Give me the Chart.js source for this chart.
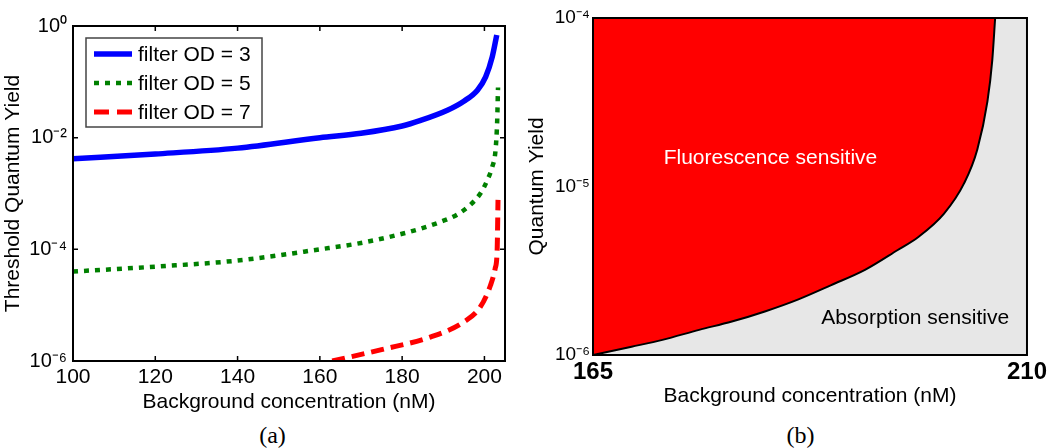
<!DOCTYPE html>
<html>
<head>
<meta charset="utf-8">
<script src="https://cdn.jsdelivr.net/npm/chart.js@4/dist/chart.umd.min.js"></script>
<style>
  html, body { margin: 0; padding: 0; background: #fff; }
  #page { position: relative; width: 1050px; height: 448px; overflow: hidden; }
  .panel { position: absolute; top: 0; width: 525px; height: 420px; }
  .caption { position: absolute; top: 421px; width: 525px; line-height: 28px; text-align: center;
             font-family: 'Liberation Serif', 'DejaVu Serif', serif; font-size: 24px; color: #000; }
</style>
</head>
<body>
<div id="page">
  <div class="panel" style="left:0"><canvas id="chartA" width="525" height="420"></canvas></div>
  <div class="panel" style="left:525px"><canvas id="chartB" width="525" height="420"></canvas></div>
  <div class="caption" style="left:10px">(a)</div>
  <div class="caption" style="left:538px">(b)</div>
</div>
<script>
// ---- panel (a): threshold quantum yield per filter OD ----
const odLabels = ['filter OD = 3', 'filter OD = 5', 'filter OD = 7'];
const od3X = [100, 120, 140, 160, 170, 180, 184.5, 191, 195, 198.3, 200.3, 201.9, 203.0];
const od3Y = [4.2e-3, 5.1e-3, 6.5e-3, 1.0e-2, 1.2e-2, 1.62e-2, 2.04e-2, 3.1e-2, 4.5e-2, 7.1e-2, 0.123, 0.28, 0.69];
const od5X = [100, 120, 140, 160, 170, 180, 184.5, 189.3, 193.4, 196.6, 199.1, 200.7, 201.9, 202.7, 203.1, 203.3];
const od5Y = [4.0e-5, 4.9e-5, 6.3e-5, 1.0e-4, 1.3e-4, 1.9e-4, 2.35e-4, 3.1e-4, 4.2e-4, 6.3e-4, 1.02e-3, 1.74e-3, 3.0e-3, 6.0e-3, 2.0e-2, 7.9e-2];
const od7X = [163, 175, 187, 195, 199, 201.5, 202.6, 203.1, 203.3];
const od7Y = [1.0e-6, 1.6e-6, 2.7e-6, 5.0e-6, 9.3e-6, 2.3e-5, 4.5e-5, 1.0e-4, 7.7e-4];
const xTicksA = [100, 120, 140, 160, 180, 200];
const yTicksA = [1e-6, 1e-4, 1e-2, 1];
const yTickLabelsA = ['10\u207B\u2076', '10\u207B\u2074', '10\u207B\u00B2', '10\u2070'];

// ---- panel (b): sensitivity regions ----
const boundaryX = [165, 169, 172.2, 176, 179.4, 182.9, 186.3, 189.7, 193.2, 196.6, 198.7, 201.4, 203.5, 204.85, 205.9, 206.4, 206.7];
const boundaryY = [1.0e-6, 1.12e-6, 1.23e-6, 1.41e-6, 1.58e-6, 1.82e-6, 2.14e-6, 2.6e-6, 3.2e-6, 4.2e-6, 5.0e-6, 6.9e-6, 1.05e-5, 1.66e-5, 3.2e-5, 5.6e-5, 1.0e-4];
const xTicksB = [165, 210];
const yTicksB = [1e-6, 1e-5, 1e-4];
const yTickLabelsB = ['10\u207B\u2076', '10\u207B\u2075', '10\u207B\u2074'];
const regionLabels = ['Fluorescence sensitive', 'Absorption sensitive'];
const regionX = [183.4, 198.4];
const regionY = [1.48e-5, 1.66e-6];

const FONT = "'Liberation Sans', Arial, sans-serif";

function toPoints(xs, ys) {
    return xs.map((x, i) => ({ x: x, y: ys[i] }));
}

// box with inward ticks on all four sides (matlab style)
const frameA = {
    id: 'frameA',
    afterDatasetsDraw(chart) {
        const { ctx, chartArea: a, scales } = chart;
        ctx.save();
        ctx.strokeStyle = '#000';
        ctx.lineWidth = 2;
        ctx.strokeRect(a.left, a.top, a.right - a.left, a.bottom - a.top);
        ctx.lineWidth = 1.5;
        ctx.beginPath();
        scales.x.ticks.forEach(t => {
            const px = scales.x.getPixelForValue(t.value);
            ctx.moveTo(px, a.bottom); ctx.lineTo(px, a.bottom - 5);
            ctx.moveTo(px, a.top); ctx.lineTo(px, a.top + 5);
        });
        scales.y.ticks.forEach(t => {
            const py = scales.y.getPixelForValue(t.value);
            ctx.moveTo(a.left, py); ctx.lineTo(a.left + 5, py);
            ctx.moveTo(a.right, py); ctx.lineTo(a.right - 5, py);
        });
        ctx.stroke();
        ctx.restore();
    }
};

// legend inside the plot, top left
const insideLegend = {
    id: 'insideLegend',
    afterDraw(chart) {
        const { ctx, chartArea: a } = chart;
        const bx = a.left + 13, by = a.top + 12, bw = 176, bh = 89;
        ctx.save();
        ctx.fillStyle = '#fff';
        ctx.fillRect(bx, by, bw, bh);
        ctx.strokeStyle = '#444';
        ctx.lineWidth = 1.5;
        ctx.strokeRect(bx, by, bw, bh);
        chart.data.datasets.forEach((ds, i) => {
            const y = by + 16 + i * 29;
            ctx.beginPath();
            ctx.strokeStyle = ds.borderColor;
            ctx.lineWidth = ds.borderWidth;
            ctx.setLineDash(ds.legendDash || []);
            ctx.moveTo(bx + 8, y);
            ctx.lineTo(bx + 46, y);
            ctx.stroke();
            ctx.setLineDash([]);
            ctx.fillStyle = '#000';
            ctx.font = '21px ' + FONT;
            ctx.textBaseline = 'middle';
            ctx.fillText(ds.label, bx + 52, y + 1);
        });
        ctx.restore();
    }
};

function renderPanelA() {
    const canvas = document.getElementById('chartA');
    return new Chart(canvas.getContext('2d'), {
        type: 'line',
        data: {
            datasets: [
                { label: odLabels[0], data: toPoints(od3X, od3Y), borderColor: '#0000ff', borderWidth: 5.5,
                  legendDash: [] },
                { label: odLabels[1], data: toPoints(od5X, od5Y), borderColor: '#008000', borderWidth: 4.5,
                  borderDash: [5, 6], legendDash: [5, 6] },
                { label: odLabels[2], data: toPoints(od7X, od7Y), borderColor: '#ff0000', borderWidth: 5,
                  borderDash: [13, 7], legendDash: [15, 8] }
            ]
        },
        options: {
            responsive: false,
            animation: false,
            layout: { padding: { left: 0, right: 20, top: 26, bottom: 0 } },
            elements: { point: { radius: 0 }, line: { cubicInterpolationMode: 'monotone', fill: false } },
            plugins: { legend: { display: false }, tooltip: { enabled: false } },
            scales: {
                x: {
                    type: 'linear', min: 100, max: 205,
                    afterBuildTicks: s => { s.ticks = xTicksA.map(v => ({ value: v })); },
                    afterFit: s => { s.height = 59; },
                    grid: { display: false, drawTicks: false },
                    border: { display: false },
                    ticks: { padding: 4, color: '#000', maxRotation: 0, autoSkip: false, font: { family: FONT, size: 21 } },
                    title: { display: true, text: 'Background concentration (nM)', color: '#000',
                             font: { family: FONT, size: 21 }, padding: { top: 0, bottom: 5 } }
                },
                y: {
                    type: 'logarithmic', min: 1e-6, max: 1,
                    afterBuildTicks: s => { s.ticks = yTicksA.map(v => ({ value: v })); },
                    afterFit: s => { s.width = 73; },
                    grid: { display: false, drawTicks: false },
                    border: { display: false },
                    ticks: { padding: 6, color: '#000', autoSkip: false, font: { family: FONT, size: 20 },
                             callback: (v, i) => yTickLabelsA[i] },
                    title: { display: true, text: 'Threshold Quantum Yield', color: '#000',
                             font: { family: FONT, size: 21 }, padding: { top: 1, bottom: 0 } }
                }
            }
        },
        plugins: [frameA, insideLegend]
    });
}

// gray plot background, black frame and region names
const regionsB = {
    id: 'regionsB',
    beforeDraw(chart) {
        const { ctx, chartArea: a } = chart;
        ctx.save();
        ctx.fillStyle = '#e7e7e7';
        ctx.fillRect(a.left, a.top, a.right - a.left, a.bottom - a.top);
        ctx.restore();
    },
    afterDatasetsDraw(chart) {
        const { ctx, chartArea: a, scales } = chart;
        ctx.save();
        ctx.strokeStyle = '#000';
        ctx.lineWidth = 2;
        ctx.strokeRect(a.left, a.top, a.right - a.left, a.bottom - a.top);
        ctx.font = '21px ' + FONT;
        ctx.textAlign = 'center';
        ctx.textBaseline = 'middle';
        regionLabels.forEach((txt, i) => {
            ctx.fillStyle = i === 0 ? '#fff' : '#000';
            ctx.fillText(txt, scales.x.getPixelForValue(regionX[i]), scales.y.getPixelForValue(regionY[i]));
        });
        ctx.restore();
    }
};

function renderPanelB() {
    const canvas = document.getElementById('chartB');
    return new Chart(canvas.getContext('2d'), {
        type: 'line',
        data: {
            datasets: [{
                label: 'boundary',
                data: toPoints(boundaryX, boundaryY),
                borderColor: '#000',
                borderWidth: 2,
                backgroundColor: '#ff0000',
                fill: 'end',
                cubicInterpolationMode: 'monotone'
            }]
        },
        options: {
            responsive: false,
            animation: false,
            layout: { padding: { left: 0, right: 20, top: 18, bottom: 0 } },
            elements: { point: { radius: 0 } },
            plugins: { legend: { display: false }, tooltip: { enabled: false } },
            scales: {
                x: {
                    type: 'linear', min: 165, max: 210,
                    afterBuildTicks: s => { s.ticks = xTicksB.map(v => ({ value: v })); },
                    afterFit: s => { s.height = 65; },
                    grid: { display: false, drawTicks: false },
                    border: { display: false },
                    ticks: { padding: 3, color: '#000', maxRotation: 0, autoSkip: false,
                             font: { family: FONT, size: 24, weight: 'bold' } },
                    title: { display: true, text: 'Background concentration (nM)', color: '#000',
                             font: { family: FONT, size: 21 }, padding: { top: 0, bottom: 11 } }
                },
                y: {
                    type: 'logarithmic', min: 1e-6, max: 1e-4,
                    afterBuildTicks: s => { s.ticks = yTicksB.map(v => ({ value: v })); },
                    afterFit: s => { s.width = 68; },
                    grid: { display: false, drawTicks: false },
                    border: { display: false },
                    ticks: { padding: 3, color: '#000', autoSkip: false, font: { family: FONT, size: 19 },
                             callback: (v, i) => yTickLabelsB[i] },
                    title: { display: true, text: 'Quantum Yield', color: '#000',
                             font: { family: FONT, size: 21 }, padding: { top: 0, bottom: 0 } }
                }
            }
        },
        plugins: [regionsB]
    });
}

renderPanelA();
renderPanelB();
</script>
</body>
</html>
